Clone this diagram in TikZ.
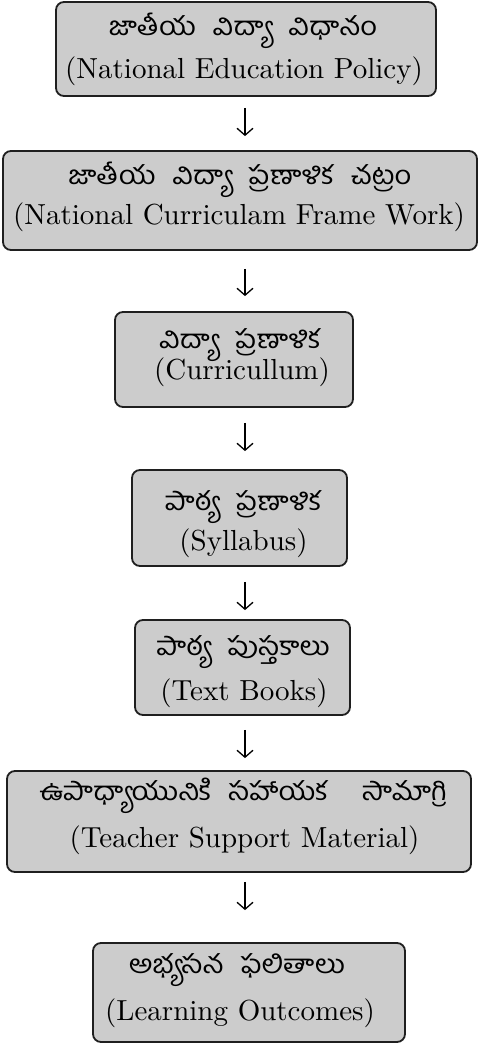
\documentclass[tikz,border=0pt]{standalone}
\usepackage{fontspec}
\newfontfamily\te[Script=Telugu,FakeStretch=1.12]{Hind Guntur}
\newfontfamily\lat{lmroman10-regular.otf}
\newcommand{\telfont}{\te\fontsize{26}{30}\selectfont\spaceskip 17pt plus 2pt minus 2pt\relax}
\usetikzlibrary{arrows.meta}
\begin{document}
\begin{tikzpicture}[x=1pt,y=-1pt,
  box/.style={draw=black!88, line width=1.8pt, fill=gray!40, rounded corners=8pt, inner sep=0pt},
  tl/.style={anchor=base, inner sep=0pt, font=\telfont},
  ll/.style={anchor=base, inner sep=0pt, font=\lat\fontsize{29}{34}\selectfont},
  arr/.style={-{Straight Barb[length=7pt,width=16pt]}, line width=1.3pt}]
\useasboundingbox (0,0) rectangle (478,1047);
% boxes
\node[box, minimum width=380pt, minimum height=94pt] (b1) at (246,49) {};
\node[box, minimum width=474pt, minimum height=99pt] (b2) at (240,200.5) {};
\node[box, minimum width=238pt, minimum height=95pt] (b3) at (234,359.5) {};
\node[box, minimum width=215pt, minimum height=96pt] (b4) at (239.5,518) {};
\node[box, minimum width=215pt, minimum height=95pt] (b5) at (242.5,667.5) {};
\node[box, minimum width=464pt, minimum height=101pt] (b6) at (239,821.5) {};
\node[box, minimum width=312pt, minimum height=99pt] (b7) at (249,992.5) {};
% texts
\node[tl] (t1) at (243,35) {జాతీయ విద్యా విధానం};
\node[ll] (l1) at (244,78) {(National Education Policy)};
\node[tl] (t2) at (240,184) {జాతీయ విద్యా ప్రణాళిక చట్రం};
\node[ll] (l2) at (239,224) {(National Curriculam Frame Work)};
\node[tl] (t3) at (240,348) {విద్యా ప్రణాళిక};
\node[ll] (l3) at (242,379) {(Curricullum)};
\node[tl] (t4) at (243,510) {పాఠ్య ప్రణాళిక};
\node[ll] (l4) at (243.5,550) {(Syllabus)};
\node[tl] (t5) at (243,655) {పాఠ్య పుస్తకాలు};
\node[ll] (l5) at (244,700) {(Text Books)};
\node[tl] (t6) at (243,800) {ఉపాధ్యాయునికి సహాయక\hspace{17pt} సామాగ్రి};
\node[ll] (l6) at (244.5,847) {(Teacher Support Material)};
\node[tl] (t7) at (237,973) {అభ్యసన ఫలితాలు};
\node[ll] (l7) at (240,1020) {(Learning Outcomes)};
% arrows
\coordinate (ax) at (245,0);
\draw[arr, shorten <=11pt, shorten >=14pt] (b1.south -| ax) -- (b2.north -| ax);
\draw[arr, shorten <=18pt, shorten >=15pt] (b2.south -| ax) -- (b3.north -| ax);
\draw[arr, shorten <=15pt, shorten >=18pt] (b3.south -| ax) -- (b4.north -| ax);
\draw[arr, shorten <=15pt, shorten >=9pt] (b4.south -| ax) -- (b5.north -| ax);
\draw[arr, shorten <=14pt, shorten >=12pt] (b5.south -| ax) -- (b6.north -| ax);
\draw[arr, shorten <=9pt, shorten >=32pt] (b6.south -| ax) -- (b7.north -| ax);
\end{tikzpicture}
\end{document}
